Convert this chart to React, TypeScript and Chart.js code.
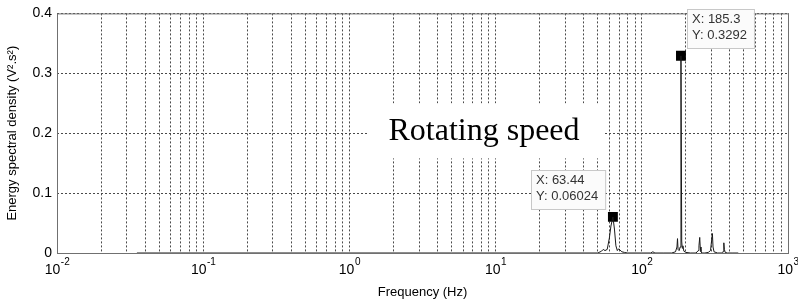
import React, { useEffect, useRef } from 'react';
import { Chart, registerables } from 'chart.js';

Chart.register(...registerables);

// Spectrum samples (Hz) and energy spectral density (V².s²)
const freqHz = [
  0.0352, 0.5, 5, 30, 50, 53, 54.5, 56, 58, 60, 61.5, 63.44, 65, 66.5, 68, 69.5, 71, 73, 76, 80,
  100, 115, 119, 123, 140, 160, 170, 174, 175.5, 177, 180, 183, 185.3, 187.5, 189, 191, 194, 200,
  215, 235, 243, 246, 249, 251, 254, 258, 270, 285, 295, 300, 304, 307, 312, 330, 350, 360, 364,
  367, 372, 385, 420, 457,
];
const esd = [
  0, 0, 0, 0, 0, 0.003, 0.006, 0.004, 0.006, 0.025, 0.045, 0.06024, 0.04, 0.012, 0.004, 0.007,
  0.005, 0.002, 0.001, 0,
  0, 0, 0.002, 0, 0, 0, 0.002, 0.01, 0.024, 0.006, 0.004, 0.01, 0.3292, 0.02, 0.008, 0.012, 0.003,
  0.001,
  0, 0, 0.004, 0.012, 0.026, 0.01, 0.002, 0, 0, 0.001, 0.004, 0.02, 0.0325, 0.01, 0.002, 0, 0,
  0.002, 0.017, 0.006, 0.001, 0, 0, 0,
];

// Data tips
const markerFreq = [63.44, 185.3];
const markerEsd = [0.06024, 0.3292];
const tipSide = ['left', 'right'];

// Axes
const yTicks = [0, 0.1, 0.2, 0.3, 0.4];
const xDecades = [-2, -1, 0, 1, 2, 3];
const xTitle = 'Frequency (Hz)';
const yTitle = 'Energy spectral density (V².s²)';
const annotationText = 'Rotating speed';

const SANS = '"Liberation Sans", Arial, Helvetica, sans-serif';
const SERIF = '"Liberation Serif", "Times New Roman", Times, serif';

const overlay = {
  id: 'overlay',
  beforeDatasetsDraw(chart: any) {
    const { ctx, chartArea: a, scales } = chart;
    ctx.save();
    // annotation with white background
    ctx.font = `32px ${SERIF}`;
    const tx = scales.x.getPixelForValue(8.33);
    const ty = scales.y.getPixelForValue(0.188);
    const w = ctx.measureText(annotationText).width;
    ctx.fillStyle = '#ffffff';
    ctx.fillRect(tx - w / 2 - 21, ty - 37, w + 45, 55);
    ctx.fillStyle = '#000000';
    ctx.textAlign = 'center';
    ctx.textBaseline = 'alphabetic';
    ctx.fillText(annotationText, tx, ty);
    // axes box
    ctx.strokeStyle = '#707070';
    ctx.lineWidth = 1;
    ctx.setLineDash([]);
    ctx.strokeRect(a.left + 0.5, a.top + 0.5, a.right - a.left, a.bottom - a.top);
    ctx.restore();
  },
  afterDatasetsDraw(chart: any) {
    const { ctx, scales } = chart;
    ctx.save();
    ctx.font = `13px ${SANS}`;
    markerFreq.forEach((f, i) => {
      const mx = scales.x.getPixelForValue(f);
      const my = scales.y.getPixelForValue(markerEsd[i]);
      const l1 = `X: ${f}`;
      const l2 = `Y: ${markerEsd[i]}`;
      const w = Math.max(ctx.measureText(l1).width, ctx.measureText(l2).width) + 12;
      const h = 39;
      const bottom = Math.round(my - 7.5);
      const left = Math.round(tipSide[i] === 'left' ? mx - 8 - w : mx + 6.5);
      ctx.fillStyle = '#fbfbfb';
      ctx.fillRect(left, bottom - h, w, h);
      ctx.strokeStyle = '#c8c8c8';
      ctx.lineWidth = 1;
      ctx.strokeRect(left + 0.5, bottom - h + 0.5, w, h);
      ctx.fillStyle = '#333333';
      ctx.textAlign = 'left';
      ctx.textBaseline = 'middle';
      ctx.fillText(l1, left + 5, bottom - 29);
      ctx.fillText(l2, left + 5, bottom - 13);
    });
    ctx.restore();
  },
  afterDraw(chart: any) {
    const { ctx, scales } = chart;
    ctx.save();
    ctx.fillStyle = '#000000';
    ctx.textBaseline = 'alphabetic';
    ctx.textAlign = 'left';
    xDecades.forEach((k) => {
      const px = scales.x.getPixelForValue(Math.pow(10, k));
      const base = '10';
      const ex = k < 0 ? '-' + Math.abs(k) : String(k);
      ctx.font = `14px ${SANS}`;
      const wb = ctx.measureText(base).width;
      ctx.font = `10px ${SANS}`;
      const we = ctx.measureText(ex).width;
      const start = px - (wb + we) / 2;
      ctx.font = `14px ${SANS}`;
      ctx.fillText(base, start, 274);
      ctx.font = `10px ${SANS}`;
      ctx.fillText(ex, start + wb + 0.5, 265);
    });
    ctx.restore();
  },
};

export default function App() {
  const ref = useRef<HTMLCanvasElement | null>(null);
  useEffect(() => {
    if (!ref.current) return;
    const xTickValues: number[] = [];
    for (let k = -2; k < 3; k++) {
      for (let m = 1; m <= 9; m++) xTickValues.push(m * Math.pow(10, k));
    }
    xTickValues.push(1000);
    const chart = new Chart(ref.current, {
      type: 'line',
      data: {
        datasets: [
          {
            data: freqHz.map((f, i) => ({ x: f, y: esd[i] })),
            borderColor: '#1a1a1a',
            borderWidth: 1,
            pointRadius: 0,
            tension: 0,
            fill: false,
          },
          {
            data: markerFreq.map((f, i) => ({ x: f, y: markerEsd[i] })),
            showLine: false,
            pointStyle: 'rect',
            pointRadius: 7,
            pointBackgroundColor: '#000000',
            pointBorderWidth: 0,
            borderColor: '#000000',
            backgroundColor: '#000000',
          },
        ],
      },
      options: {
        responsive: false,
        animation: false,
        events: [],
        layout: { padding: { top: 11, right: 10, left: 0, bottom: 0 } },
        plugins: { legend: { display: false }, tooltip: { enabled: false } },
        scales: {
          x: {
            type: 'logarithmic',
            min: 0.01,
            max: 1000,
            afterBuildTicks: (s: any) => {
              s.ticks = xTickValues.map((v) => ({ value: v }));
            },
            afterFit: (s: any) => {
              s.height = 50;
            },
            ticks: { display: false, autoSkip: false },
            grid: { color: '#4a4a4a', lineWidth: 1, drawTicks: false, borderDash: [2, 2] } as any,
            border: { display: false, dash: [2, 2] },
            title: {
              display: true,
              text: xTitle,
              color: '#000',
              font: { family: SANS, size: 13 },
              padding: { top: 0, bottom: 3 },
            },
          },
          y: {
            type: 'linear',
            min: 0,
            max: 0.4,
            afterBuildTicks: (s: any) => {
              s.ticks = yTicks.map((v) => ({ value: v }));
            },
            afterFit: (s: any) => {
              s.width = 57;
            },
            ticks: {
              color: '#000',
              font: { family: SANS, size: 14 },
              padding: 5,
              callback: (v: any) => (Number(v) === 0 ? '0' : Number(v).toFixed(1)),
            },
            grid: { color: '#4a4a4a', lineWidth: 1, drawTicks: false, borderDash: [2, 2] } as any,
            border: { display: false, dash: [2, 2] },
            title: {
              display: true,
              text: yTitle,
              color: '#000',
              font: { family: SANS, size: 13 },
              padding: { top: 5, bottom: 0 },
            },
          },
        },
      },
      plugins: [overlay],
    } as any);
    return () => chart.destroy();
  }, []);
  return (
    <div style={{ position: 'absolute', left: 0, top: 0, width: 798, height: 303, background: '#fff' }}>
      <canvas ref={ref} width={798} height={303} style={{ display: 'block' }} />
    </div>
  );
}
